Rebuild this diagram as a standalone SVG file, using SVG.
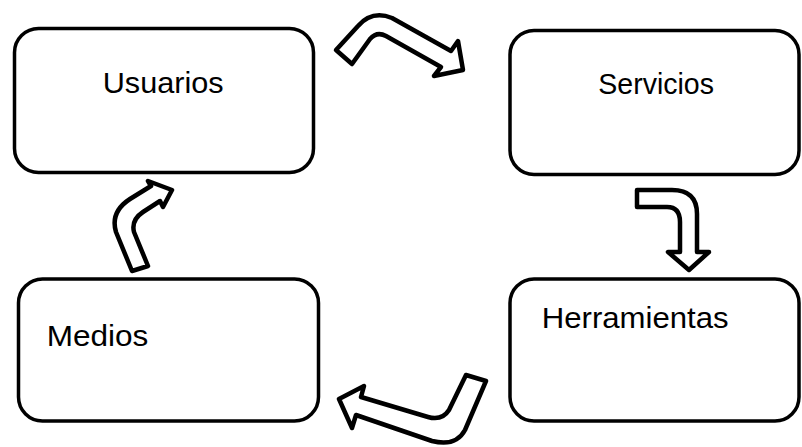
<svg xmlns="http://www.w3.org/2000/svg" width="802" height="447" viewBox="0 0 802 447">
<style>
.box{fill:#fff;stroke:#000;stroke-width:3.5}
.lbl{font-family:"Liberation Sans",Arial,sans-serif;font-size:29.5px;fill:#000}
.arr{fill:#fff;stroke:#000;stroke-width:4.5;stroke-linejoin:round}
</style>
<rect width="802" height="447" fill="#fff"/>
<g id="usuarios">
<rect class="box" x="14.5" y="28.5" width="299" height="144" rx="24"/>
<text class="lbl" x="102.7" y="93.3" textLength="121" lengthAdjust="spacingAndGlyphs">Usuarios</text>
</g>
<g id="servicios">
<rect class="box" x="510" y="30.5" width="289" height="144" rx="24"/>
<text class="lbl" x="598.3" y="94.3" textLength="115.7" lengthAdjust="spacingAndGlyphs">Servicios</text>
</g>
<g id="herramientas">
<rect class="box" x="510" y="279" width="289" height="142" rx="24"/>
<text class="lbl" x="541.7" y="327.7" textLength="187" lengthAdjust="spacingAndGlyphs">Herramientas</text>
</g>
<g id="medios">
<rect class="box" x="18.5" y="279" width="300" height="142" rx="24"/>
<text class="lbl" x="46.7" y="346" textLength="101.7" lengthAdjust="spacingAndGlyphs">Medios</text>
</g>
<g id="connectors">
<path class="arr" d="M336 50 L358 26 Q372 10 392 18 L451 51 L458 41 L463 70 L434 76 L441 67 L386 36 Q377 31 370 39 L352 64 Z"/>
<path class="arr" d="M637 190 L672 190 Q697 190 697 214 L697 252 L709 252 L689 270 L668 252 L680 252 L680 222 Q680 207 667 207 L637 207 Z"/>
<path class="arr" d="M466 375 L486 381 L465 430 Q456 447 432 441 L356 415 L352 428 L339 399 L364 386 L361 397 L428 417 Q442 421 449 410 Z"/>
<path class="arr" d="M132 271 L116 232 Q110 212 130 199 L151 186 L148 181 L172 190 L163 207 L160 201 L143 212 Q131 220 134 232 L148 266 Z"/>
</g>
</svg>
